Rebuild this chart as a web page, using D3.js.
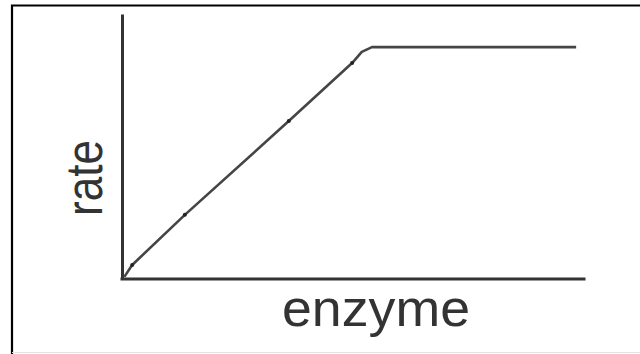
<!DOCTYPE html>
<html>
<head>
<meta charset="utf-8">
<script src="https://cdn.jsdelivr.net/npm/d3@7"></script>
<style>
  html, body { margin: 0; padding: 0; background: #fff; }
  .axis_label { font-family: "Liberation Sans", Arial, sans-serif; fill: #333; }
</style>
</head>
<body>
<div id="chart"></div>
<script>
// enzyme amount vs reaction rate (no tick labels in the original)
var enzyme = [0.05, 0.22, 1.36, 3.61, 4.98, 5.19, 5.41, 9.83];
var rate   = [0.08, 0.53, 2.42, 5.96, 8.15, 8.57, 8.75, 8.75];
var markIdx = [1, 2, 3, 4];
var xLabel = "enzyme", yLabel = "rate";

var width = 640, height = 354;
var svg = d3.select("#chart").append("svg")
    .attr("width", width)
    .attr("height", height);

var x = d3.scaleLinear().domain([0, 10]).range([122, 584]);
var y = d3.scaleLinear().domain([0, 10]).range([279, 14]);

// frame around the picture
svg.append("path")
    .attr("d", "M12,354 L12,5.5 L640,5.5")
    .attr("fill", "none").attr("stroke", "#000").attr("stroke-width", 2.2);
svg.append("line")
    .attr("x1", 12).attr("x2", 640).attr("y1", 352.5).attr("y2", 352.5)
    .attr("stroke", "#e4e4e4").attr("stroke-width", 1);

// axes without ticks
var xAxis = svg.append("g").attr("transform", "translate(0," + y(0) + ")")
    .call(d3.axisBottom(x).tickValues([]).tickSizeOuter(0));
var yAxis = svg.append("g").attr("transform", "translate(" + x(0) + ",0)")
    .call(d3.axisLeft(y).tickValues([]).tickSizeOuter(0));
[xAxis, yAxis].forEach(function(g) {
    g.select(".domain").attr("stroke", "#333").attr("stroke-width", 3);
});
xAxis.select(".domain").attr("d", "M" + (x(0) - 1.5) + ",0H" + (x(10) + 1.5));

var pts = enzyme.map(function(e, i) { return [e, rate[i]]; });
var line = d3.line()
    .x(function(d) { return x(d[0]); })
    .y(function(d) { return y(d[1]); });

svg.append("path")
    .datum(pts)
    .attr("d", line)
    .attr("fill", "none")
    .attr("stroke", "#454545")
    .attr("stroke-width", 2.6)
    .attr("stroke-linejoin", "round");

svg.selectAll("circle.pt")
    .data(markIdx.map(function(i) { return pts[i]; }))
    .enter().append("circle")
    .attr("class", "pt")
    .attr("cx", function(d) { return x(d[0]); })
    .attr("cy", function(d) { return y(d[1]); })
    .attr("r", 2)
    .attr("fill", "#222");

svg.append("text").attr("class", "axis_label")
    .attr("x", 376).attr("y", 326)
    .attr("text-anchor", "middle")
    .attr("font-size", 52)
    .attr("textLength", 188).attr("lengthAdjust", "spacingAndGlyphs")
    .text(xLabel);

svg.append("text").attr("class", "axis_label")
    .attr("transform", "translate(102,178) rotate(-90)")
    .attr("text-anchor", "middle")
    .attr("font-size", 52)
    .attr("textLength", 76).attr("lengthAdjust", "spacingAndGlyphs")
    .text(yLabel);
</script>
</body>
</html>
